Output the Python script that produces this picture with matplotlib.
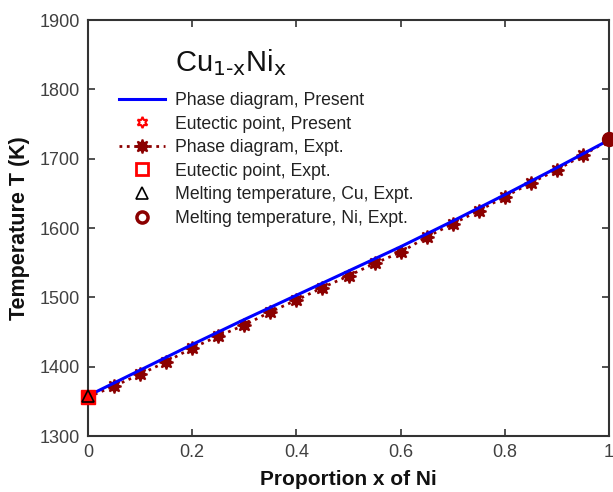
import matplotlib
matplotlib.use("Agg")
import matplotlib.pyplot as plt
from matplotlib.lines import Line2D

plt.rcParams['font.family'] = ['Liberation Sans', 'DejaVu Sans']

# Present phase diagram (calculated)
x_present = [0.0, 0.1, 0.2, 0.3, 0.4, 0.5, 0.6, 0.7, 0.8, 0.9, 1.0]
t_present = [1358, 1395, 1432, 1468, 1503, 1538, 1573, 1610, 1648, 1687, 1727]

# Experimental phase diagram
x_expt = [0.0, 0.05, 0.1, 0.15, 0.2, 0.25, 0.3, 0.35, 0.4, 0.45, 0.5,
          0.55, 0.6, 0.65, 0.7, 0.75, 0.8, 0.85, 0.9, 0.95, 1.0]
t_expt = [1356, 1372, 1389, 1407, 1427, 1444, 1460, 1479, 1496, 1514, 1531,
          1549, 1565, 1587, 1606, 1625, 1645, 1665, 1684, 1705, 1727]

# Special points
eut_present = (0.0, 1357)
eut_expt = (0.0, 1356)
melt_cu = (0.0, 1358)
melt_ni = (1.0, 1728)

x_ticks = [0, 0.2, 0.4, 0.6, 0.8, 1]
x_ticklabels = ['0', '0.2', '0.4', '0.6', '0.8', '1']
y_ticks = [1300, 1400, 1500, 1600, 1700, 1800, 1900]

legend_labels = ['Phase diagram, Present', 'Eutectic point, Present',
                 'Phase diagram, Expt.', 'Eutectic point, Expt.',
                 'Melting temperature, Cu, Expt.', 'Melting temperature, Ni, Expt.']

fig = plt.figure(figsize=(6.13, 4.92), dpi=100)
ax = fig.add_axes([0.1436, 0.1138, 0.8499, 0.8455])

dark_red = '#8B0000'
star8 = (8, 1, 0)
hexa = (6, 1, 0)

h1, = ax.plot(x_present, t_present, color='#0000FF', lw=2.2, zorder=3)
h3, = ax.plot(x_expt, t_expt, color=dark_red, lw=2.0, ls=':', marker=star8,
              ms=10, mfc=dark_red, mec=dark_red, mew=1.3, zorder=2)
h4, = ax.plot([eut_expt[0]], [eut_expt[1]], ls='none', marker='s', ms=10,
              mfc='#FF0000', mec='#FF0000', zorder=4, clip_on=False)
h2, = ax.plot([eut_present[0]], [eut_present[1]], ls='none', marker=hexa, ms=8,
              mfc='none', mec='#FF0000', mew=1.5, zorder=5, clip_on=False)
h5, = ax.plot([melt_cu[0]], [melt_cu[1]], ls='none', marker='^', ms=9,
              mfc='none', mec='black', mew=1.2, zorder=6, clip_on=False)
h6, = ax.plot([melt_ni[0]], [melt_ni[1]], ls='none', marker='o', ms=10,
              mfc=dark_red, mec=dark_red, zorder=6, clip_on=False)

# legend handles (styled like the reference legend)
lh1 = Line2D([], [], color='#0000FF', lw=2.2)
lh2 = Line2D([], [], ls='none', marker=hexa, ms=8, mfc='none', mec='#FF0000', mew=1.5)
lh3 = Line2D([], [], color=dark_red, lw=2.0, ls=':', marker=star8, ms=10,
             mfc=dark_red, mec=dark_red, mew=1.3)
lh4 = Line2D([], [], ls='none', marker='s', ms=8, mfc='none', mec='#FF0000', mew=2)
lh5 = Line2D([], [], ls='none', marker='^', ms=8, mfc='none', mec='black', mew=1.2)
lh6 = Line2D([], [], ls='none', marker='o', ms=8, mfc='none', mec=dark_red, mew=2.5)

leg = ax.legend([lh1, lh2, lh3, lh4, lh5, lh6], legend_labels, loc='upper left',
                bbox_to_anchor=(0.029, 0.865), frameon=False, fontsize=12.7,
                handlelength=2.6, handletextpad=0.6, labelspacing=0.37,
                labelcolor='#222222')

ax.text(0.167, 0.935, r'Cu$_{\mathrm{1\text{-}x}}$Ni$_{\mathrm{x}}$', transform=ax.transAxes,
        fontsize=21, va='top', ha='left', color='#111111')

ax.set_xlim(0, 1)
ax.set_ylim(1300, 1900)
ax.set_xticks(x_ticks)
ax.set_xticklabels(x_ticklabels)
ax.set_yticks(y_ticks)
ax.tick_params(direction='in', length=5, width=1.2, labelsize=13,
               labelcolor='#404040', color='#333333', top=True, right=True, pad=6)
for s in ax.spines.values():
    s.set_linewidth(1.5)
    s.set_color('#333333')

ax.set_xlabel('Proportion x of Ni', fontsize=15, fontweight='bold', color='#111111', labelpad=6)
ax.set_ylabel('Temperature T (K)', fontsize=15.5, fontweight='bold', color='#111111', labelpad=7)

fig.savefig('out.png', dpi=100)
